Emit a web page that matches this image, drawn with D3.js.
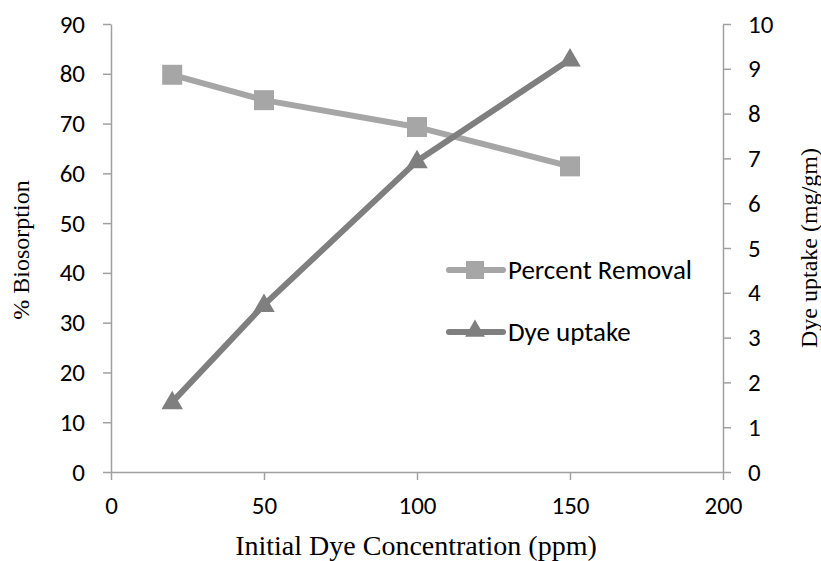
<!DOCTYPE html>
<html>
<head>
<meta charset="utf-8">
<script src="https://cdn.jsdelivr.net/npm/d3@7"></script>
<style>
body { margin: 0; background: #fff; }
svg { display: block; }
.tick text { font-family: Carlito, Calibri, "Open Sans", sans-serif; font-size: 25px; fill: #000; }
.title { font-family: "Liberation Serif", "Times New Roman", serif; fill: #000; }
.leg { font-family: Carlito, Calibri, "Open Sans", sans-serif; font-size: 27px; fill: #000; }
</style>
</head>
<body>
<script>
const concentrations = [20, 50, 100, 150];
const percentRemoval = [79.8, 74.7, 69.3, 61.4];
const dyeUptake = [1.56, 3.73, 6.94, 9.21];
const xTicks = [0, 50, 100, 150, 200];
const leftTicks = [0, 10, 20, 30, 40, 50, 60, 70, 80, 90];
const rightTicks = [0, 1, 2, 3, 4, 5, 6, 7, 8, 9, 10];
const seriesNames = ["Percent Removal", "Dye uptake"];

const W = 821, H = 561;
const L = 111, R = 723, T = 24, B = 472;
const axisColor = "#a0a0a0";
const c1 = "#a6a6a6", c2 = "#7f7f7f";

const svg = d3.select("body").append("svg").attr("width", W).attr("height", H);

const x = d3.scaleLinear().domain([0, 200]).range([L, R]);
const yL = d3.scaleLinear().domain([0, 90]).range([B, T]);
const yR = d3.scaleLinear().domain([0, 10]).range([B, T]);

function styleAxis(g) {
  g.select(".domain").attr("stroke", axisColor).attr("stroke-width", 1.5);
  g.selectAll(".tick line").attr("stroke", axisColor).attr("stroke-width", 1.5);
}

svg.append("g").attr("transform", `translate(0,${B})`)
  .call(d3.axisBottom(x).tickValues(xTicks).tickSize(8).tickSizeOuter(0).tickPadding(16))
  .call(styleAxis);
svg.append("g").attr("transform", `translate(${L},0)`)
  .call(d3.axisLeft(yL).tickValues(leftTicks).tickSize(8).tickSizeOuter(0).tickPadding(18))
  .call(styleAxis);
svg.append("g").attr("transform", `translate(${R},0)`)
  .call(d3.axisRight(yR).tickValues(rightTicks).tickSize(8).tickSizeOuter(0).tickPadding(17))
  .call(styleAxis);

const line1 = d3.line().x((d, i) => x(concentrations[i])).y(d => yL(d));
const line2 = d3.line().x((d, i) => x(concentrations[i])).y(d => yR(d));

svg.append("path").datum(percentRemoval).attr("d", line1)
  .attr("fill", "none").attr("stroke", c1).attr("stroke-width", 6).attr("stroke-linejoin", "round");
svg.selectAll(".sq").data(percentRemoval).enter().append("rect")
  .attr("x", (d, i) => x(concentrations[i]) - 10).attr("y", d => yL(d) - 10)
  .attr("width", 20).attr("height", 20).attr("fill", c1);

svg.append("path").datum(dyeUptake).attr("d", line2)
  .attr("fill", "none").attr("stroke", c2).attr("stroke-width", 6).attr("stroke-linejoin", "round");
const tri = d3.symbol().type(d3.symbolTriangle).size(200);
svg.selectAll(".tri").data(dyeUptake).enter().append("path")
  .attr("d", tri)
  .attr("transform", (d, i) => `translate(${x(concentrations[i])},${yR(d) + 1})`)
  .attr("fill", c2);

// Legend
const legY = [270, 332];
const legCols = [c1, c2];
legY.forEach((ly, i) => {
  svg.append("line").attr("x1", 449).attr("x2", 503).attr("y1", ly).attr("y2", ly)
    .attr("stroke", legCols[i]).attr("stroke-width", 6).attr("stroke-linecap", "round");
  if (i === 0) {
    svg.append("rect").attr("x", 466).attr("y", ly - 9).attr("width", 18).attr("height", 18).attr("fill", c1);
  } else {
    svg.append("path").attr("d", d3.symbol().type(d3.symbolTriangle).size(170))
      .attr("transform", `translate(475,${ly - 1})`).attr("fill", c2);
  }
  svg.append("text").attr("class", "leg").attr("x", 508).attr("y", ly).attr("dy", "0.35em")
    .text(seriesNames[i]);
});

// Titles
svg.append("text").attr("class", "title").attr("x", (L + R) / 2 - 1).attr("y", 555)
  .attr("text-anchor", "middle").style("font-size", "28px").text("Initial Dye Concentration (ppm)");
svg.append("text").attr("class", "title")
  .attr("transform", `translate(29,${(T + B) / 2 + 2}) rotate(-90)`)
  .attr("text-anchor", "middle").style("font-size", "24px").text("% Biosorption");
svg.append("text").attr("class", "title")
  .attr("transform", `translate(817,${(T + B) / 2}) rotate(-90)`)
  .attr("text-anchor", "middle").style("font-size", "24px").text("Dye uptake (mg/gm)");
</script>
</body>
</html>
